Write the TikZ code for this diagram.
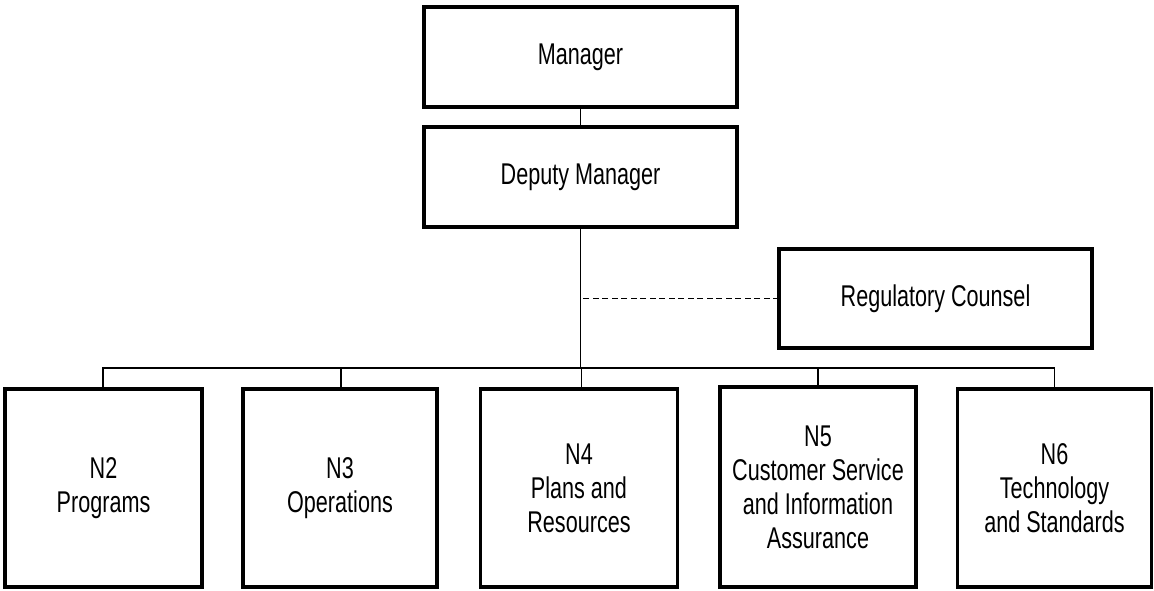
\documentclass[tikz,border=0pt]{standalone}
\usepackage{fontspec}
\setmainfont[FakeStretch=0.72]{Liberation Sans}
\begin{document}
\begin{tikzpicture}[x=1pt,y=-1pt,
  orgbox/.style={draw=black, line width=3.5pt, fill=white, inner sep=0pt, outer sep=0pt,
    align=center, font=\fontsize{30}{34}\selectfont},
  link/.style={line width=1.4pt, draw=black},
  dotlink/.style={link, dash pattern=on 6pt off 3.5pt}]
  \useasboundingbox (0,0) rectangle (1154,590);

  % top of the chain
  \node[orgbox, minimum width=313pt, minimum height=100pt] (mgr) at (580.5,57) {Manager};
  \node[orgbox, minimum width=313pt, minimum height=100pt] (dep) at (580.5,177) {Deputy Manager};
  \node[orgbox, minimum width=313pt, minimum height=99pt] (reg) at (935.5,298.5) {Regulatory Counsel};

  % divisions
  \node[orgbox, minimum width=197pt, minimum height=198pt] (n2) at (103.5,488) {N2\\Programs};
  \node[orgbox, minimum width=194pt, minimum height=198pt] (n3) at (340,488) {N3\\Operations};
  \node[orgbox, minimum width=197pt, minimum height=198pt] (n4) at (579,488) {N4\\Plans and\\Resources};
  \node[orgbox, minimum width=196pt, minimum height=200pt] (n5) at (818,487) {N5\\Customer Service\\and Information\\Assurance};
  \node[orgbox, minimum width=194pt, minimum height=198pt] (n6) at (1054.5,488) {N6\\Technology\\and Standards};

  \coordinate (bus) at (580.5,368);

  % reporting lines
  \draw[link] (mgr.south) -- (dep.south |- mgr.south) -- (dep.north);
  \draw[link] (dep.south) -- (bus);
  \draw[link] (n2.north -| 103,0) |- (bus) -| (n6.north);
  \draw[link] (341,0 |- n3.north) -- (341,0 |- bus);
  \draw[link] (581.5,0 |- n4.north) -- (581.5,0 |- bus);
  \draw[link] (n5.north) -- (n5.north |- bus);
  \draw[dotlink] (reg.west) -- (reg.west -| dep.south);
\end{tikzpicture}
\end{document}
